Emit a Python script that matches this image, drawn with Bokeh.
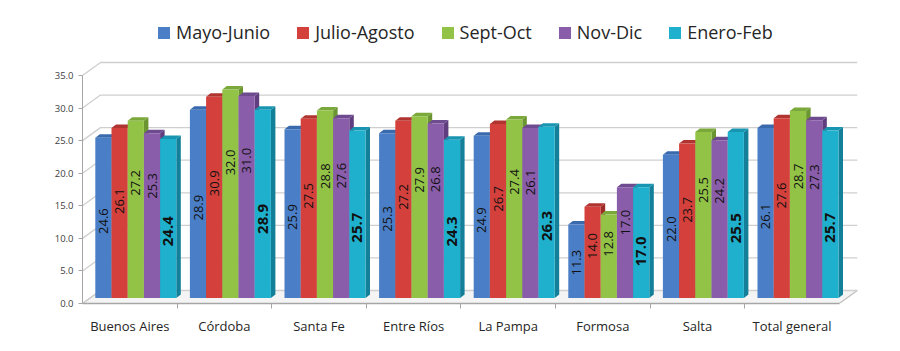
import math
from bokeh.plotting import figure
from bokeh.models import Legend, LegendItem, FixedTicker, NumeralTickFormatter, ColumnDataSource
from bokeh.core.properties import value
from bokeh.embed import file_html
from bokeh.resources import INLINE

# ---------------- data ----------------
categories = ["Buenos Aires", "Córdoba", "Santa Fe", "Entre Ríos",
              "La Pampa", "Formosa", "Salta", "Total general"]
series_names = ["Mayo-Junio", "Julio-Agosto", "Sept-Oct", "Nov-Dic", "Enero-Feb"]
mayo_junio   = [24.6, 28.9, 25.9, 25.3, 24.9, 11.3, 22.0, 26.1]
julio_agosto = [26.1, 30.9, 27.5, 27.2, 26.7, 14.0, 23.7, 27.6]
sept_oct     = [27.2, 32.0, 28.8, 27.9, 27.4, 12.8, 25.5, 28.7]
nov_dic      = [25.3, 31.0, 27.6, 26.8, 26.1, 17.0, 24.2, 27.3]
enero_feb    = [24.4, 28.9, 25.7, 24.3, 26.3, 17.0, 25.5, 25.7]
y_ticks = [0, 5, 10, 15, 20, 25, 30, 35]

series_values = [mayo_junio, julio_agosto, sept_oct, nov_dic, enero_feb]

# ---------------- styles ----------------
front_colors = ["#4A7EC6", "#D4403B", "#92C347", "#8A5DAA", "#1FB0CE"]
side_colors  = ["#2F5C99", "#9E2B28", "#6B9530", "#5F3D7E", "#137F99"]
top_colors   = ["#3A6AAE", "#B03530", "#7AA83A", "#6E4A8E", "#1895B0"]
label_frac   = [0.48, 0.57, 0.65, 0.68, 0.42]
label_sizes  = ["13px", "13px", "13px", "13px", "15px"]
label_styles = ["normal", "normal", "normal", "normal", "bold"]

W, H = 900, 351
FRAME_L, FRAME_R, FRAME_B = 82, 870, 303
PX_X = 94.6     # pixels per category
PX_Y = 6.514    # pixels per value unit

x_start = -0.5
x_end = x_start + (FRAME_R - FRAME_L) / PX_X
y_end = FRAME_B / PX_Y
n = len(categories)
x_last = n - 0.5

# 3D offsets (pixels -> data units)
DXW, DYW = 18 / PX_X, 13 / PX_Y        # wall depth
BW = 16.2 / PX_X                       # bar width
BXO, BYO = 6 / PX_X, 5.5 / PX_Y        # bar row offset into depth
DDX, DDY = 4.5 / PX_X, 3.5 / PX_Y      # bar own depth

p = figure(width=W, height=H, x_range=(x_start, x_end), y_range=(0, y_end),
           output_backend="svg", toolbar_location=None,
           min_border_left=FRAME_L, min_border_right=W - FRAME_R,
           min_border_top=0, min_border_bottom=H - FRAME_B)
p.outline_line_color = None
p.xgrid.grid_line_color = None
p.ygrid.grid_line_color = None
p.background_fill_color = "white"
p.border_fill_color = "white"

GRID = "#CFCFCF"

# floor
p.patch([x_start, x_last, x_last + DXW, x_start + DXW], [0, 0, DYW, DYW],
        fill_color="#F4F4F4", line_color="#BFBFBF", line_width=1.2)

# back wall gridlines + left wall diagonals
gx, gy = [], []
for t in y_ticks:
    gx.append([x_start, x_start + DXW, x_last + DXW])
    gy.append([t, t + DYW, t + DYW])
p.multi_line(gx, gy, line_color=GRID, line_width=1.3)

# bars
legend_items = []
for j, vals in enumerate(series_values):
    lefts = [i + BXO - 2.5 * BW + j * BW for i in range(n)]
    rights = [l + BW for l in lefts]
    tops = [v + BYO for v in vals]
    side_xs = [[r, r + DDX, r + DDX, r] for r in rights]
    side_ys = [[BYO, BYO + DDY, t + DDY, t] for t in tops]
    top_xs = [[l, r, r + DDX, l + DDX] for l, r in zip(lefts, rights)]
    top_ys = [[t, t, t + DDY, t + DDY] for t in tops]
    p.patches(side_xs, side_ys, fill_color=side_colors[j], line_color=None)
    p.patches(top_xs, top_ys, fill_color=top_colors[j], line_color=None)
    src = ColumnDataSource(dict(left=lefts, right=rights, top=tops,
                                bottom=[BYO] * n,
                                cx=[(l + r) / 2 for l, r in zip(lefts, rights)],
                                ly=[BYO + label_frac[j] * v for v in vals],
                                txt=["%.1f" % v for v in vals]))
    r = p.quad(left="left", right="right", top="top", bottom="bottom", source=src,
               fill_color=front_colors[j], line_color=None)
    legend_items.append(LegendItem(label=series_names[j], renderers=[r]))
    p.text(x="cx", y="ly", text="txt", source=src, angle=math.pi / 2,
           text_align="center", text_baseline="middle",
           text_font=value("Open Sans"), text_font_size=label_sizes[j],
           text_font_style=label_styles[j], text_color="#111111")

# y axis
ya = p.yaxis[0]
ya.ticker = FixedTicker(ticks=y_ticks)
ya.formatter = NumeralTickFormatter(format="0.0")
ya.bounds = (0, y_ticks[-1])
ya.axis_line_color = "#A6A6A6"
ya.major_tick_line_color = "#A6A6A6"
ya.major_tick_out = 4
ya.major_tick_in = 0
ya.minor_tick_line_color = None
ya.major_label_standoff = 5
ya.major_label_text_font = "Open Sans"
ya.major_label_text_font_size = "9.5px"
ya.major_label_text_color = "#404040"

# x axis
xa = p.xaxis[0]
xa.ticker = FixedTicker(ticks=list(range(n)), minor_ticks=[k + 0.5 for k in range(n - 1)])
xa.major_label_overrides = {i: c for i, c in enumerate(categories)}
xa.bounds = (x_start, x_last)
xa.axis_line_color = "#A6A6A6"
xa.axis_line_width = 1.3
xa.major_tick_line_color = None
xa.major_tick_out = 0
xa.major_tick_in = 0
xa.minor_tick_line_color = "#A6A6A6"
xa.minor_tick_out = 5
xa.minor_tick_in = 0
xa.major_label_standoff = 8
xa.major_label_text_font = "Open Sans"
xa.major_label_text_font_size = "13px"
xa.major_label_text_color = "#262626"

legend = Legend(items=legend_items, orientation="horizontal", location=(74, 259),
                glyph_width=15, glyph_height=15, label_standoff=5, spacing=25,
                padding=0, margin=0, border_line_color=None, background_fill_alpha=0,
                label_text_font="Open Sans", label_text_font_size="18px",
                label_text_color="#262626", label_height=15)
p.add_layout(legend)

open("out.html", "w").write(file_html(p, INLINE))
